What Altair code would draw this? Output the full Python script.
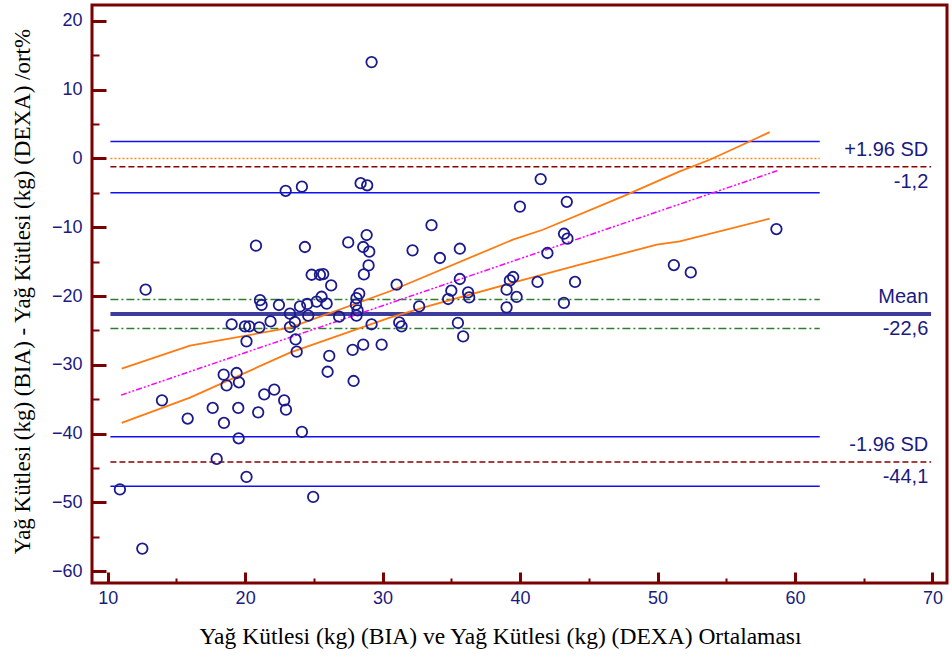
import altair as alt
import pandas as pd

# ---------------- data ----------------
point_x = [29.2, 22.95, 24.13, 28.4, 28.88, 41.5, 43.4, 39.99, 33.56, 20.79,
           24.35, 27.5, 28.84, 28.59, 29.03, 28.98, 28.64, 24.84, 25.44, 25.68,
           26.26, 12.76, 21.08, 21.2, 22.46, 23.99, 24.52, 25.2, 25.56, 25.93,
           23.26, 23.62, 23.26, 24.59, 26.84, 28.1, 28.3, 28.06, 28.1, 28.18,
           29.2, 19.02, 19.99, 20.3, 21.03, 21.85, 20.1, 23.67, 23.75, 26.12,
           26.0, 27.82, 28.59, 29.93, 27.89, 18.44, 19.38, 18.65, 19.55, 13.95,
           15.82, 17.64, 19.5, 18.46, 20.95, 21.39, 22.12, 22.84, 22.97, 19.53,
           24.13, 17.93, 20.1, 10.89, 24.95, 12.52, 32.18, 34.17, 35.62, 43.2,
           43.45, 41.99, 51.19, 31.02, 35.62, 39.5, 39.26, 41.27, 44.0, 35.0,
           36.22, 36.3, 34.77, 39.02, 39.75, 43.19, 32.66, 39.02, 31.21, 31.38,
           35.48, 35.86, 58.65, 52.42]
point_y = [14.0, -4.7, -4.1, -3.6, -3.9, -3.0, -6.3, -7.0, -9.7, -12.68,
           -12.87, -12.2, -11.13, -12.87, -13.55, -15.54, -16.85, -16.9, -16.9, -16.8,
           -18.45, -19.07, -20.6, -21.3, -21.3, -21.5, -21.15, -20.8, -20.1, -21.1,
           -22.56, -23.77, -24.5, -22.85, -23.0, -20.3, -19.65, -21.25, -22.85, -22.08,
           -24.1, -24.1, -24.4, -24.4, -24.55, -23.68, -26.58, -26.3, -28.08, -28.7,
           -31.0, -27.83, -27.06, -27.06, -32.34, -31.42, -31.18, -32.97, -32.53, -35.15,
           -37.8, -36.26, -36.26, -38.44, -36.9, -34.28, -33.6, -35.15, -36.5, -40.67,
           -39.74, -43.67, -46.28, -48.1, -49.19, -56.7, -13.36, -14.47, -13.12, -10.94,
           -11.66, -13.74, -15.49, -18.35, -17.52, -17.23, -17.72, -17.95, -17.95, -19.22,
           -19.46, -20.19, -20.43, -19.07, -20.13, -21.0, -21.5, -21.64, -23.82, -24.4,
           -23.9, -25.86, -10.26, -16.56]

ci_upper_x = [11.02, 15.99, 23.26, 30.53, 39.48, 41.66, 47.48, 51.62, 53.8, 56.7, 58.16]
ci_upper_y = [-30.55, -27.2, -24.6, -19.3, -11.8, -10.36, -5.52, -1.89, -0.19, 2.47, 3.83]
ci_lower_x = [11.02, 15.99, 23.26, 30.53, 33.45, 39.48, 44.35, 49.95, 51.62, 58.16]
ci_lower_y = [-38.44, -34.76, -28.22, -23.14, -21.4, -18.06, -15.44, -12.54, -12.06, -8.76]
reg_x = [10.97, 58.7]
reg_y = [-34.4, -1.8]

mean_diff = -22.6
loa_upper = -1.2
loa_lower = -44.1
mean_ci = [-20.5, -24.7]
upper_ci = [2.45, -5.0]
lower_ci = [-40.45, -47.65]
zero_line = [0.0]

line_start = 10.2
short_end = 61.8
long_end = 69.9
label_x = 69.7

labels_above = ["+1.96 SD", "Mean", "-1.96 SD"]
labels_above_y = [loa_upper, mean_diff, loa_lower]
labels_below = ["-1,2", "-22,6", "-44,1"]
labels_below_y = [loa_upper, mean_diff, loa_lower]

x_domain = [8.86, 71.06]
y_domain = [-61.7, 22.3]
x_major = [10, 20, 30, 40, 50, 60, 70]
x_minor = [15, 25, 35, 45, 55, 65]
y_major = [-60, -50, -40, -30, -20, -10, 0, 10, 20]
y_minor = [-55, -45, -35, -25, -15, -5, 5, 15]

X_TITLE = "Yağ Kütlesi (kg) (BIA) ve Yağ Kütlesi (kg) (DEXA) Ortalaması"
Y_TITLE = "Yağ Kütlesi (kg) (BIA) - Yağ Kütlesi (kg) (DEXA) /ort%"

# ---------------- styling ----------------
W, H = 855, 578
AXC = "#7B0000"
LBL = "#1A1A80"
SANS = "Liberation Sans"
SERIF = "Liberation Serif"

xs = alt.Scale(domain=x_domain, nice=False, zero=False)
ys = alt.Scale(domain=y_domain, nice=False, zero=False)

major_test = "datum.value % 10 === 0"

label_x_axis = alt.Axis(
    orient="bottom", values=x_major, format="d", ticks=False, domain=False, grid=False,
    labelFont=SANS, labelFontSize=18, labelColor=LBL, labelPadding=6,
    labelFlush=False, labelOverlap=False,
    title=X_TITLE, titleFont=SERIF, titleFontSize=23.5, titleFontWeight="normal",
    titleColor="black", titleX=408, titleY=53, titleBaseline="middle", titleAlign="center")

label_y_axis = alt.Axis(
    orient="left", values=y_major, format="d", ticks=False, domain=False, grid=False,
    labelFont=SANS, labelFontSize=18, labelColor=LBL, labelPadding=10,
    labelFlush=False, labelOverlap=False,
    title=Y_TITLE, titleFont=SERIF, titleFontSize=23, titleFontWeight="normal",
    titleColor="black", titleX=-70, titleY=286, titleAngle=270,
    titleBaseline="middle", titleAlign="center")

tick_x_axis = alt.Axis(
    orient="top", offset=-H, values=sorted(x_major + x_minor), labels=False,
    domain=False, grid=False, ticks=True, tickColor=AXC,
    tickSize={"condition": {"test": major_test, "value": 11}, "value": 5},
    tickWidth={"condition": {"test": major_test, "value": 3}, "value": 2},
    title=None)

tick_y_axis = alt.Axis(
    orient="right", offset=-W, values=sorted(y_major + y_minor), labels=False,
    domain=False, grid=False, ticks=True, tickColor=AXC,
    tickSize={"condition": {"test": major_test, "value": 14}, "value": 7},
    tickWidth={"condition": {"test": major_test, "value": 3}, "value": 2},
    title=None)


def hrule(values, x_end, color, width, dash=None, xaxis=None, yaxis=None):
    df = pd.DataFrame({"y": values,
                       "x": [line_start] * len(values),
                       "x2": [x_end] * len(values)})
    kw = dict(color=color, strokeWidth=width)
    if dash:
        kw["strokeDash"] = dash
    return alt.Chart(df).mark_rule(**kw).encode(
        x=alt.X("x:Q", scale=xs, axis=xaxis),
        x2="x2:Q",
        y=alt.Y("y:Q", scale=ys, axis=yaxis))


def line(xv, yv, color, width, dash=None):
    df = pd.DataFrame({"x": xv, "y": yv})
    kw = dict(color=color, strokeWidth=width)
    if dash:
        kw["strokeDash"] = dash
    return alt.Chart(df).mark_line(**kw).encode(
        x=alt.X("x:Q", scale=xs, axis=None),
        y=alt.Y("y:Q", scale=ys, axis=None))


zero_layer = hrule(zero_line, short_end, "#FF8C1A", 1.5, [2, 2],
                   xaxis=tick_x_axis, yaxis=tick_y_axis)
ci_rules = hrule(upper_ci + lower_ci, short_end, "#1010F0", 1.5)
green_rules = hrule(mean_ci, short_end, "#2E7D2E", 1.5, [8, 3, 2, 3])
loa_rules = hrule([loa_upper, loa_lower], long_end, "#8B0000", 1.5, [6, 3])
mean_rule = hrule([mean_diff], long_end, "#3D3D9E", 4)

upper_band = line(ci_upper_x, ci_upper_y, "#FF7A10", 1.8)
lower_band = line(ci_lower_x, ci_lower_y, "#FF7A10", 1.8)
reg_line = line(reg_x, reg_y, "#FF00FF", 1.5, [6, 2, 2, 2, 2, 2])

pts = alt.Chart(pd.DataFrame({"x": point_x, "y": point_y})).mark_point(
    shape="circle", filled=False, size=110, strokeWidth=1.8, color="#1A1A8C", opacity=1
).encode(
    x=alt.X("x:Q", scale=xs, axis=label_x_axis),
    y=alt.Y("y:Q", scale=ys, axis=label_y_axis))

above_df = pd.DataFrame({"x": [label_x] * 3, "y": labels_above_y, "t": labels_above})
below_df = pd.DataFrame({"x": [label_x] * 3, "y": labels_below_y, "t": labels_below})
txt_above = alt.Chart(above_df).mark_text(
    align="right", baseline="middle", dy=-17, font=SANS, fontSize=20, color=LBL
).encode(x=alt.X("x:Q", scale=xs, axis=None), y=alt.Y("y:Q", scale=ys, axis=None), text="t:N")
txt_below = alt.Chart(below_df).mark_text(
    align="right", baseline="middle", dy=15, font=SANS, fontSize=20, color=LBL
).encode(x=alt.X("x:Q", scale=xs, axis=None), y=alt.Y("y:Q", scale=ys, axis=None), text="t:N")

chart = alt.layer(
    zero_layer, ci_rules, green_rules, loa_rules, mean_rule,
    upper_band, lower_band, reg_line, pts, txt_above, txt_below
).resolve_axis(
    x="independent", y="independent"
).properties(
    width=W, height=H,
    padding={"left": 92, "top": 5, "right": 5, "bottom": 79},
    autosize=alt.AutoSizeParams(type="none"),
    background="white"
).configure_view(
    stroke=AXC, strokeWidth=3
)

chart.save("out.html", embed_options={"renderer": "svg", "actions": False})
